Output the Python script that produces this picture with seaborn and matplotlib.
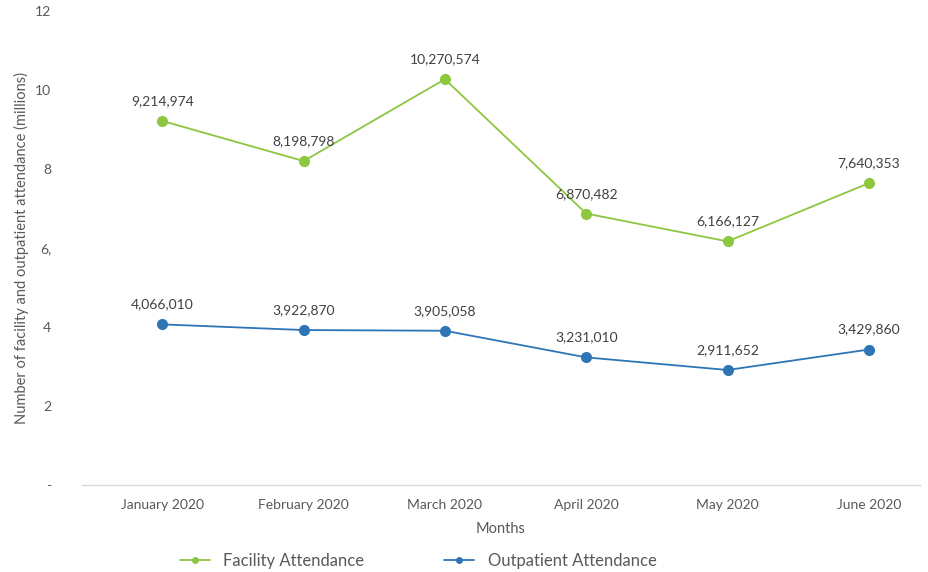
import pandas as pd
import matplotlib.pyplot as plt
import seaborn as sns
from matplotlib.lines import Line2D

# Data
months = ['January 2020', 'February 2020', 'March 2020', 'April 2020', 'May 2020', 'June 2020']
facility = [9214974, 8198798, 10270574, 6870482, 6166127, 7640353]
outpatient = [4066010, 3922870, 3905058, 3231010, 2911652, 3429860]
y_ticks = [0, 2, 4, 6, 8, 10, 12]
y_tick_labels = ['-', '2', '4', '6,', '8', '10', '12']

green = '#8DC63F'
blue = '#2E75B6'
grey = '#595959'

sns.set_style('white')
plt.rcParams['font.family'] = ['Lato', 'DejaVu Sans']

df = pd.DataFrame({
    'Value': [v / 1e6 for v in facility + outpatient],
    'Raw': facility + outpatient,
    'Series': ['Facility Attendance'] * 6 + ['Outpatient Attendance'] * 6,
})
df['x'] = list(range(len(months))) * 2

fig = plt.figure(figsize=(9.29, 5.72), dpi=100)
ax = fig.add_axes([0.088, 0.152, 0.902, 0.829])

sns.lineplot(data=df, x='x', y='Value', hue='Series', palette=[green, blue],
             marker='o', markersize=8, markeredgewidth=0, linewidth=1.3,
             ax=ax, legend=False)

# Value labels above points
for _, r in df.iterrows():
    ax.annotate(f"{r['Raw']:,}", (r['x'], r['Value']), xytext=(0, 10),
                textcoords='offset points', ha='center', va='bottom',
                fontsize=10, color='#404040')

ax.set_xlim(-0.57, 5.36)
ax.set_ylim(0, 12)
ax.set_xticks(range(len(months)))
ax.set_xticklabels(months)
ax.set_yticks(y_ticks)
ax.set_yticklabels(y_tick_labels)
ax.tick_params(axis='both', length=0, labelsize=10, colors=grey)
ax.tick_params(axis='x', pad=10)
ax.tick_params(axis='y', pad=22)

for s in ['top', 'right', 'left']:
    ax.spines[s].set_visible(False)
ax.spines['bottom'].set_color('#D9D9D9')
ax.spines['bottom'].set_linewidth(1)

ax.set_xlabel('Months', fontsize=10.5, color=grey, labelpad=8)
ax.set_ylabel('Number of facility and outpatient attendance (millions)',
              fontsize=10.5, color=grey, labelpad=4)

# Legend
handles = [
    Line2D([0], [0], color=green, marker='o', markersize=5, markeredgewidth=0, lw=1.3),
    Line2D([0], [0], color=blue, marker='o', markersize=5, markeredgewidth=0, lw=1.3),
]
leg = fig.legend(handles, ['Facility Attendance', 'Outpatient Attendance'],
                 loc='center', bbox_to_anchor=(0.45, 0.02), ncol=2, frameon=False,
                 fontsize=12, handlelength=1.8, columnspacing=4.8)
for t in leg.get_texts():
    t.set_color(grey)

fig.savefig('out.png', dpi=100)
